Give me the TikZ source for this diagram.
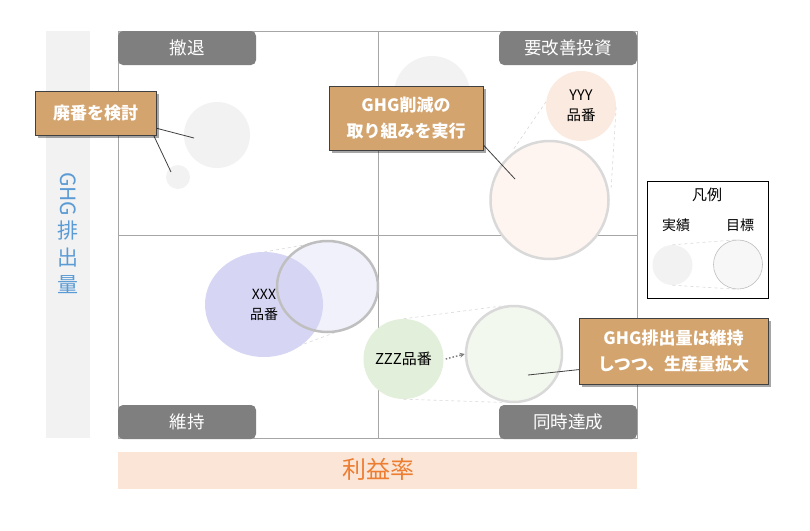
\documentclass[tikz,border=0pt]{standalone}
\usepackage{fontspec}
\setmainfont{Noto Sans CJK JP}
\usetikzlibrary{shapes.geometric,shadows,arrows.meta}
\definecolor{axisgray}{HTML}{F2F2F2}
\definecolor{axispeach}{HTML}{FBE5D6}
\definecolor{axisblue}{HTML}{5B9BD5}
\definecolor{axisorange}{HTML}{ED7D31}
\definecolor{framegray}{HTML}{A6A6A6}
\definecolor{quadgray}{HTML}{7F7F7F}
\definecolor{callouttan}{HTML}{D3A46E}
\definecolor{calloutline}{HTML}{404040}
\definecolor{retiregray}{HTML}{F2F2F2}
\definecolor{xxxblue}{HTML}{D6D6F4}
\definecolor{xxxtarget}{HTML}{F1F1FC}
\definecolor{yyypeach}{HTML}{FBEADF}
\definecolor{yyytarget}{HTML}{FEF5F0}
\definecolor{zzzgreen}{HTML}{E2EFDA}
\definecolor{zzztarget}{HTML}{F2F8EE}
\definecolor{ringgray}{HTML}{D9D9D9}
\definecolor{ringdark}{HTML}{BFBFBF}
\pgfdeclarelayer{front}
\pgfsetlayers{main,front}
\begin{document}
\begin{tikzpicture}
[
    x=1pt, y=-1pt,
    quad/.style={fill=quadgray, text=white, rounded corners=5pt, minimum width=138pt, minimum height=34pt, inner sep=0pt, font=\fontsize{17.5}{17.5}\selectfont},
    callout/.style={fill=callouttan, draw=calloutline, line width=0.8pt, text=white, align=center, inner sep=0pt, font=\bfseries\fontsize{17}{26}\selectfont, drop shadow={shadow xshift=2.5pt, shadow yshift=-2.5pt, opacity=0.35, fill=black}},
    actual/.style={circle, inner sep=0pt, align=center, font=\fontsize{14}{20}\selectfont},
    target/.style={circle, inner sep=0pt, line width=2.5pt},
    guide/.style={draw=ringgray, dashed, line width=0.6pt},
    pointer/.style={draw=black!75, line width=0.8pt},
    axislabel/.style={inner sep=0pt, align=center, font=\fontsize{21}{27}\selectfont},
    legendtext/.style={inner sep=0pt, font=\fontsize{14}{14}\selectfont},
]
\useasboundingbox[fill=white] (0,0) rectangle (810,530);

% axes
\fill[axisgray] (46,31) rectangle (90,438);
\fill[axispeach] (118,452) rectangle (637,489);
\node[axislabel, text=axisblue, rotate=-90, anchor=west] (ghg) at (68,172) {GHG};
\node[axislabel, text=axisblue, anchor=north] (ghgjp) at ([yshift=-4pt]ghg.east) {排\\出\\量};
\node[axislabel, text=axisorange, font=\fontsize{24}{24}\selectfont] (profit) at (378,469) {利益率};

% quadrants
\draw[framegray, line width=0.8pt] (118,31) rectangle (637,438);
\draw[framegray, line width=0.8pt] (378,31) -- (378,438) (118,235) -- (637,235);
\node[quad] (retire) at (187,48) {撤退};
\node[quad] (invest) at (568,48) {要改善投資};
\node[quad] (keep) at (187,422) {維持};
\node[quad] (both) at (568,422) {同時達成};

% top left
\node[circle, fill=retiregray, minimum size=66pt] (g1) at (217,135) {};
\node[circle, fill=retiregray, minimum size=24pt] (g2) at (178,177) {};
% top right
\node[circle, fill=retiregray, minimum size=76pt] (g3) at (432,94) {};
\node[actual, fill=yyypeach, minimum size=70pt, font=\fontsize{14.5}{20}\selectfont] (yyy) at (581,106) {YYY\\品番};
\draw[guide] (yyy.173) -- (513,150);
\draw[guide] (yyy.-2) -- (611,190);
\node[target, draw=ringgray, fill=yyytarget, minimum size=118pt] (yyyT) at (549.5,200) {};

% bottom left
\draw[guide] (264,252) -- (327.5,241);
\draw[guide] (293,348) -- (342,330);
\node[target, ellipse, fill=xxxtarget, minimum width=101pt, minimum height=91pt] (xxxT) at (327.5,286.5) {};
\node[actual, ellipse, fill=xxxblue, minimum width=118pt, minimum height=105pt] (xxx) at (264,304.5) {XXX\\品番};
\node[target, ellipse, draw=ringdark, minimum width=101pt, minimum height=91pt] (xxxTrim) at (xxxT) {};

% bottom right
\node[actual, fill=zzzgreen, minimum size=80pt, font=\fontsize{15}{15}\selectfont] (zzz) at (403.5,359) {ZZZ品番};
\node[target, draw=ringgray, fill=zzztarget, minimum size=96pt] (zzzT) at (514,354) {};
\draw[guide] (zzz.north) -- (zzzT.100);
\draw[guide] (zzz.south) -- (zzzT.-100);
\draw[gray, line width=1.5pt, dotted, -{Stealth[length=5pt,width=5pt]}] ([xshift=2pt]zzz.east) -- (zzzT.west);

% callouts
\begin{pgfonlayer}{front}
\node[callout, minimum width=121pt, minimum height=44pt] (c1) at (95.5,113) {廃番を検討};
\node[callout, minimum width=154pt, minimum height=64pt] (c2) at (406,118) {GHG削減の\\取り組みを実行};
\node[callout, minimum width=189pt, minimum height=66pt] (c3) at (673.5,351) {GHG排出量は維持\\しつつ、生産量拡大};
\end{pgfonlayer}
\coordinate (p1a) at (194,138);
\coordinate (p1b) at (171,172);
\coordinate (p2) at (515,179);
\coordinate (p3) at (528,375);
\draw[pointer] ([xshift=-7pt,yshift=9pt]c1.south east) -- (p1a);
\draw[pointer] ([xshift=-7pt,yshift=9pt]c1.south east) -- (p1b);
\draw[pointer] ([xshift=-7pt,yshift=13pt]c2.south east) -- (p2);
\draw[pointer] ([xshift=6pt,yshift=-18pt]c3.west) -- (p3);

% legend
\node[draw, line width=0.8pt, minimum width=121pt, minimum height=117pt] (legend) at (707.5,239.5) {};
\node[legendtext, font=\fontsize{15}{15}\selectfont] (legendtitle) at (707,195) {凡例};
\node[legendtext] (lgactual) at (676,225) {実績};
\node[legendtext] (lgtarget) at (740,225) {目標};
\node[circle, fill=retiregray, minimum size=40pt] (lgA) at (672.5,265) {};
\node[circle, draw=ringdark, line width=0.6pt, fill=axisgray!60, minimum size=49pt] (lgT) at (738,264.5) {};
\draw[guide] (lgA.north) -- (lgT.95);
\draw[guide] (lgA.south) -- (lgT.-95);
\end{tikzpicture}
\end{document}
